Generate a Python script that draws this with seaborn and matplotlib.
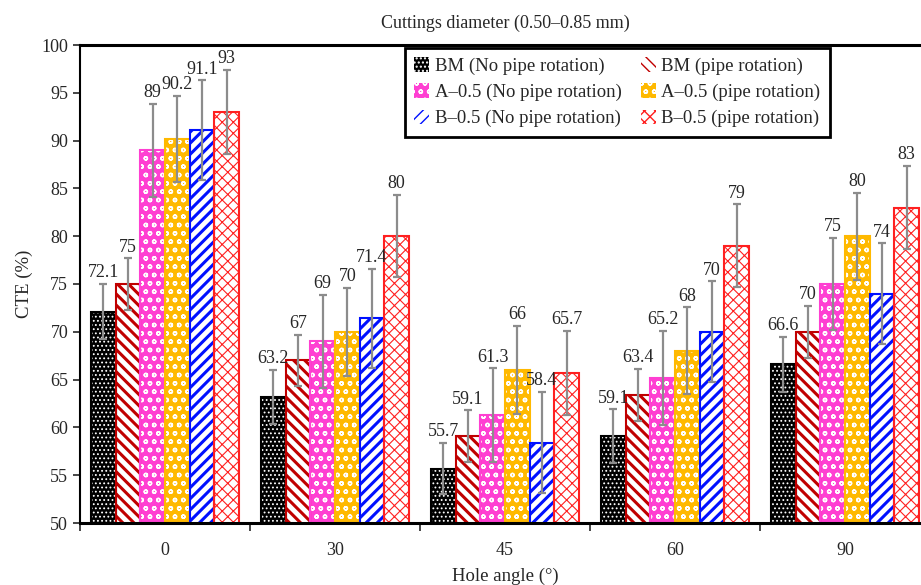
import numpy as np
import pandas as pd
import matplotlib
matplotlib.use("Agg")
import matplotlib.pyplot as plt
import matplotlib.patches as mpatches
from matplotlib.ticker import FixedLocator
import seaborn as sns

angles = ["0", "30", "45", "60", "90"]
series = ["BM (No pipe rotation)", "BM (pipe rotation)",
          "A\u20130.5 (No pipe rotation)", "A\u20130.5 (pipe rotation)",
          "B\u20130.5 (No pipe rotation)", "B\u20130.5 (pipe rotation)"]

bm_no = [72.1, 63.2, 55.7, 59.1, 66.6]
bm_rot = [75, 67, 59.1, 63.4, 70]
a_no = [89, 69, 61.3, 65.2, 75]
a_rot = [90.2, 70, 66, 68, 80]
b_no = [91.1, 71.4, 58.4, 70, 74]
b_rot = [93, 80, 65.7, 79, 83]

bm_no_err = [2.9, 2.8, 2.7, 2.8, 2.85]
bm_rot_err = [2.7, 2.7, 2.7, 2.75, 2.75]
a_no_err = [4.85, 4.9, 4.9, 4.9, 4.85]
a_rot_err = [4.5, 4.6, 4.6, 4.55, 4.55]
b_no_err = [5.2, 5.2, 5.3, 5.3, 5.25]
b_rot_err = [4.4, 4.3, 4.4, 4.35, 4.35]

values = [bm_no, bm_rot, a_no, a_rot, b_no, b_rot]
errors = [bm_no_err, bm_rot_err, a_no_err, a_rot_err, b_no_err, b_rot_err]

# face, hatch colour, hatch, outline, hatch width
styles = [
    ("black", "white", "....", "black", 0.8),
    ("white", "#C00000", "\\\\\\", "#C00000", 2.2),
    ("#FF3FD2", "white", "oo", "#FF3FD2", 1.0),
    ("#FFB900", "white", "oo", "#FFB900", 1.0),
    ("white", "#0010FF", "///", "#0010FF", 2.2),
    ("white", "#FF2020", "xxx", "#FF2020", 0.8),
]


def hatch_width(p, lw):
    if hasattr(p, "set_hatch_linewidth"):
        p.set_hatch_linewidth(lw)
    elif hasattr(p, "_hatch_linewidth"):
        p._hatch_linewidth = lw


rows = []
for s, vals in zip(series, values):
    for a, v in zip(angles, vals):
        rows.append({"angle": a, "series": s, "CTE": v})
df = pd.DataFrame(rows)

sns.set_style("ticks")
plt.rcParams["font.family"] = ["Liberation Serif", "DejaVu Serif"]

fig = plt.figure(figsize=(9.21, 5.85), dpi=100)
ax = fig.add_axes([80 / 921, 1 - 523 / 585, 850 / 921, 478 / 585])

sns.barplot(data=df, x="angle", y="CTE", hue="series", order=angles,
            hue_order=series, errorbar=None, width=0.87, ax=ax, legend=False)

handles = []
for cont, (fc, hc, hatch, ec, hlw), errs, vals, name in zip(ax.containers, styles, errors, values, series):
    xs = []
    for p in cont.patches:
        p.set_facecolor(fc)
        p.set_edgecolor(hc)
        p.set_hatch(hatch)
        p.set_linewidth(0)
        hatch_width(p, hlw)
        ax.add_patch(mpatches.Rectangle((p.get_x(), p.get_y()), p.get_width(), p.get_height(),
                                        fill=False, edgecolor=ec, linewidth=1.5, zorder=p.get_zorder() + 0.1))
        xs.append(p.get_x() + p.get_width() / 2)
    ax.errorbar(xs, vals, yerr=errs, fmt="none", ecolor="#8C8C8C", elinewidth=1.6,
                capsize=3, capthick=1.6, zorder=5)
    for x, v, e in zip(xs, vals, errs):
        ax.annotate(f"{v:g}", (x, v + e), xytext=(0, 8), textcoords="offset points",
                    ha="center", va="center", fontsize=13, zorder=6)
    h = mpatches.Patch(facecolor=fc, edgecolor=hc, hatch=hatch, linewidth=0)
    hatch_width(h, hlw)
    handles.append((h, name))

ax.set_ylim(50, 100)
ax.set_yticks(np.arange(50, 101, 5))
ax.set_xlim(-0.5, 4.5)
ax.xaxis.set_minor_locator(FixedLocator([-0.5, 0.5, 1.5, 2.5, 3.5, 4.5]))
ax.tick_params(axis="x", which="major", length=0, pad=14, labelsize=13)
ax.tick_params(axis="x", which="minor", length=6, width=1.2, direction="out")
ax.tick_params(axis="y", length=5, width=1.2, direction="out", labelsize=13)

for side in ["left", "top", "bottom"]:
    ax.spines[side].set_visible(True)
    ax.spines[side].set_color("black")
ax.spines["left"].set_linewidth(1.5)
ax.spines["top"].set_linewidth(2.2)
ax.spines["bottom"].set_linewidth(2.2)
ax.spines["right"].set_visible(False)

ax.set_xlabel("Hole angle (\u00b0)", fontsize=13.5, labelpad=6)
ax.set_ylabel("CTE (%)", fontsize=13.5, labelpad=6)
ax.set_title("Cuttings diameter (0.50\u20130.85 mm)", fontsize=13, pad=12)

order = [0, 2, 4, 1, 3, 5]
leg = ax.legend([handles[i][0] for i in order], [handles[i][1] for i in order],
                ncol=2, loc="upper right", bbox_to_anchor=(0.882, 0.994),
                borderaxespad=0, fontsize=13.5, frameon=True, fancybox=False,
                framealpha=1, handlelength=0.8, handleheight=0.8, handletextpad=0.3,
                columnspacing=1.0, borderpad=0.5, labelspacing=0.45)
leg.get_frame().set_edgecolor("black")
leg.get_frame().set_linewidth(2)
leg.set_zorder(10)

fig.savefig("out.png", dpi=100)
